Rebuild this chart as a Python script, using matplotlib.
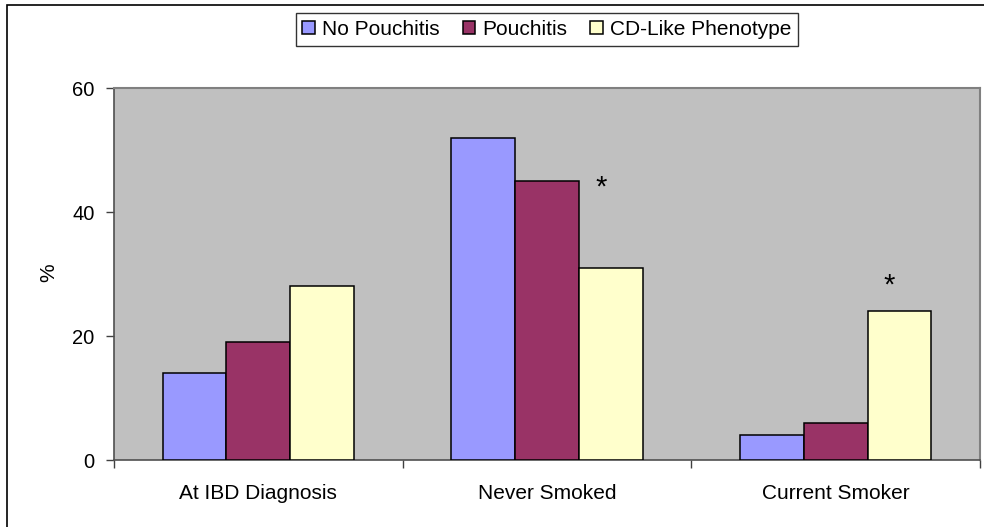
import matplotlib
matplotlib.use("Agg")
import matplotlib.pyplot as plt
from matplotlib.patches import Rectangle
import numpy as np

plt.rcParams['font.family'] = ['Liberation Sans', 'DejaVu Sans']

categories = ["At IBD Diagnosis", "Never Smoked", "Current Smoker"]
series_names = ["No Pouchitis", "Pouchitis", "CD-Like Phenotype"]
no_pouchitis = [14, 52, 4]
pouchitis = [19, 45, 6]
cd_like = [28, 31, 24]
colors = ["#9999FF", "#993366", "#FFFFCC"]
yticks = [0, 20, 40, 60]
star_cats = [1, 2]
star_heights = [43.9, 28.2]

W, H = 984, 527
fig = plt.figure(figsize=(W / 100, H / 100), dpi=100)
fig.patch.set_facecolor("white")

# outer frame
fig.add_artist(Rectangle((7 / W, -0.1), 1.2, 1 - 5 / H + 0.1, transform=fig.transFigure,
                         fill=False, edgecolor="black", linewidth=1.2))

ax = fig.add_axes([114 / W, 1 - 460 / H, (980 - 114) / W, (460 - 88) / H])
ax.set_facecolor("#C0C0C0")

x = np.arange(len(categories))
bw = 0.221
for i, (vals, name, c) in enumerate(zip([no_pouchitis, pouchitis, cd_like], series_names, colors)):
    ax.bar(x + (i - 1) * bw, vals, width=bw, color=c, edgecolor="black", linewidth=1.1,
           label=name, zorder=3)

for ci, h in zip(star_cats, star_heights):
    ax.text(ci + bw - 0.035, h, "*", ha="center", va="center", fontsize=21, color="black")

ax.set_xlim(-0.5, 2.5)
ax.set_ylim(0, 60)
ax.set_yticks(yticks)
ax.tick_params(axis="y", direction="out", length=6, width=1, color="#404040",
               labelsize=14.5, pad=8)
ax.set_xticks(np.arange(-0.5, 3.0, 1.0))
ax.set_xticklabels([])
ax.tick_params(axis="x", which="major", direction="out", length=6, width=1, color="#404040")
ax.set_xticks(x, minor=True)
ax.set_xticklabels(categories, minor=True)
ax.tick_params(axis="x", which="minor", length=0, labelsize=15, pad=17)

fig.text(49 / W, 1 - 273 / H, "%", rotation=90, ha="center", va="center", fontsize=15)

for s in ["top", "right"]:
    ax.spines[s].set_color("#808080")
    ax.spines[s].set_linewidth(1.5)
for s in ["left", "bottom"]:
    ax.spines[s].set_color("#505050")
    ax.spines[s].set_linewidth(1.2)

leg = fig.legend(loc="center", bbox_to_anchor=(547 / W, 1 - 29.5 / H), ncol=3,
                 fontsize=15, frameon=True, fancybox=False, handlelength=0.6,
                 handleheight=0.6, handletextpad=0.35, columnspacing=1.1,
                 borderpad=0.32, borderaxespad=0)
leg.get_frame().set_edgecolor("black")
leg.get_frame().set_linewidth(1.0)

fig.savefig("out.png", dpi=100)
